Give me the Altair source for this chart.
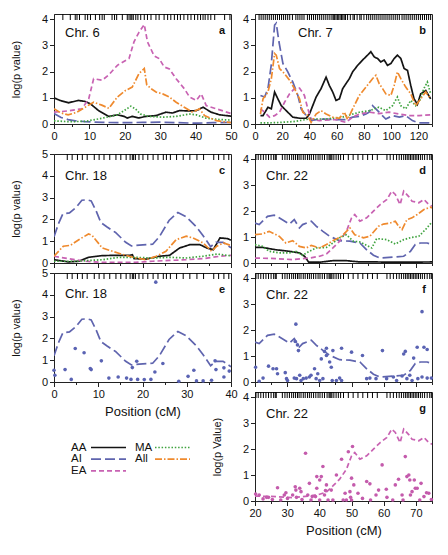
import altair as alt
import pandas as pd

FONT = "Liberation Sans"
GROUPS = ["AA", "AI", "EA", "MA", "All"]
GROUP_COLORS = ["#141414", "#5f64ae", "#c862b2", "#3fa33f", "#ef8a2e"]
GROUP_DASHES = [[1, 0], [10, 4], [5, 3], [1.5, 1.8], [7, 2, 1.5, 2]]
LEGEND_ORDER = ["AA", "MA", "AI", "All", "EA"]
POINT_BLUE = "#5a63b3"
POINT_PINK = "#c45bac"

# ---------------- Chr. 6 (panel a) ----------------
chr6_AA = [(0, 1.0), (1.7, 0.9), (4.1, 0.81), (6.9, 0.9), (8.8, 0.86), (10.3, 0.77), (12.6, 0.51),
           (15.5, 0.29), (17.9, 0.35), (19.8, 0.29), (20.7, 0.23), (22.1, 0.29), (24, 0.23), (25.9, 0.29),
           (28.8, 0.32), (31.6, 0.45), (33.5, 0.42), (35.4, 0.51), (38.3, 0.5), (40.2, 0.51), (42.1, 0.64),
           (44.4, 0.45), (46.8, 0.35), (50, 0.3)]
chr6_AI = [(0, 0.4), (2, 0.25), (4, 0.17), (6, 0.12), (8.8, 0.09), (13.6, 0.06), (20, 0.05), (25, 0.06),
           (30, 0.07), (35, 0.05), (40, 0.03), (45, 0.05), (50, 0.06)]
chr6_EA = [(0, 0.45), (4, 0.5), (7.9, 0.58), (9.8, 0.96), (11.2, 1.73), (13.6, 1.67), (15.5, 1.88),
           (17.9, 2.24), (21.2, 2.5), (22.6, 3.14), (24, 3.5), (25.5, 3.8), (26.4, 3.14), (28.3, 2.6),
           (29.7, 2.5), (31.1, 2.18), (32.6, 2.1), (34.5, 1.73), (36.8, 1.35), (38.3, 1.03), (40.2, 0.9),
           (41.6, 1.15), (43, 0.7), (45.9, 0.58), (50, 0.4)]
chr6_MA = [(0, 0.12), (4, 0.09), (8.8, 0.1), (13.6, 0.22), (17.9, 0.35), (19.8, 0.51), (21.7, 0.68),
           (23, 0.58), (24.4, 0.38), (26.9, 0.29), (30.7, 0.26), (34.5, 0.29), (38.3, 0.38), (40.2, 0.35),
           (43, 0.22), (46.8, 0.17), (50, 0.15)]
chr6_All = [(0, 0.58), (2, 0.42), (4, 0.35), (6.5, 0.45), (8.8, 0.64), (11.2, 0.83), (13.5, 0.72),
            (15.5, 0.6), (17.9, 1.03), (20.2, 1.28), (22.1, 1.41), (24, 1.92), (25.5, 2.12), (26.2, 1.5),
            (27.4, 1.35), (28.8, 1.22), (30.7, 1.15), (32.6, 1.03), (34.5, 0.83), (36.8, 0.64), (39.2, 0.45),
            (41.1, 0.58), (42.5, 0.32), (45.9, 0.13), (50, 0.05)]
chr6_markers = [2.5, 4.6, 6, 6.5, 7.2, 8.8, 9.5, 10.3, 11.7, 12.9, 13.6, 14.2, 16.4, 17.1, 17.7, 19.3,
                20.7, 21.2, 21.7, 22, 22.4, 23.1, 23.7, 24.5, 25.5, 26.4, 27.4, 28.8, 29.7, 31.1, 32.1,
                33, 34, 34.9, 35.7, 36.7, 37.8, 38.7, 39.7, 40.6, 41.4, 42.1, 42.7, 43.5, 44.3, 45.4,
                48.2, 49.7]

# ---------------- Chr. 7 (panel b) ----------------
chr7_AA = [(4, 0.32), (5.9, 0.32), (9.5, 0.64), (12, 0.58), (14.4, 1.22), (16.8, 0.96), (19.3, 0.7),
           (22.9, 0.51), (27.8, 0.26), (32.7, 0.22), (37.6, 0.22), (40, 0.38), (42.4, 0.7), (44.9, 1.03),
           (48.5, 1.35), (52.2, 1.79), (54.6, 1.47), (57.1, 1.22), (59.5, 0.9), (62, 0.96), (64.4, 1.35),
           (66.8, 1.54), (69.3, 1.73), (71.7, 1.99), (75.4, 2.24), (79, 2.44), (82.7, 2.63), (85.1, 2.76),
           (87.6, 2.56), (90, 2.5), (92.4, 2.37), (94.9, 2.44), (97.3, 2.24), (99.8, 2.31), (102.2, 2.5),
           (104.6, 2.63), (107.1, 2.5), (109.5, 2.12), (112, 2.05), (114.4, 1.47), (116.8, 0.96),
           (119.3, 0.75), (121.7, 1.15), (125.4, 1.28), (129, 0.96)]
chr7_AI = [(4, 1.09), (7.1, 1.03), (9.5, 1.35), (11.9, 2.24), (14.4, 3.78), (15.6, 3.85), (17.6, 3.14),
           (20.5, 2.31), (24.1, 1.99), (27.8, 1.6), (31.5, 1.09), (33.9, 0.58), (37.6, 0.32), (41.2, 0.13),
           (47.3, 0.19), (59.5, 0.17), (66.8, 0.17), (71.7, 0.26), (76.6, 0.29), (81.5, 0.38), (83.9, 0.45),
           (86.3, 0.7), (88.8, 0.58), (92.4, 0.38), (96.1, 0.19), (101, 0.32), (106, 0.26), (110.7, 0.32),
           (115.6, 0.13), (120.5, 0.04), (129, 0.04)]
chr7_EA = [(4, 0.58), (7.1, 0.45), (10.7, 0.26), (14.4, 0.32), (18, 0.45), (21.7, 0.83), (25.4, 1.15),
           (29, 1.35), (32.7, 1.37), (36.3, 1.09), (38.8, 0.58), (41.2, 0.19), (47.3, 0.13), (59.5, 0.17),
           (66.8, 0.06), (71.7, 0.26), (76.6, 0.38), (84, 0.45), (91, 0.4), (98.5, 0.45), (106, 0.38),
           (113, 0.32), (120.5, 0.32), (129, 0.35)]
chr7_MA = [(4, 0.04), (15, 0.05), (27.8, 0.09), (40, 0.19), (52, 0.19), (64, 0.26), (76.6, 0.45),
           (84, 0.51), (91, 0.64), (96, 0.51), (101, 0.7), (104.6, 1.03), (107, 0.7), (110.7, 0.58),
           (114.4, 0.9), (118, 0.7), (121.7, 0.96), (124, 1.35), (126.6, 1.6), (129, 1.15)]
chr7_All = [(4, 0.38), (5.9, 0.96), (9.5, 1.22), (12, 1.73), (14.4, 2.69), (15.6, 2.63), (18, 2.12),
            (21.7, 1.92), (25.4, 1.67), (29, 1.35), (32.7, 0.96), (35.1, 0.45), (38.8, 0.32), (41.2, 0.06),
            (44.9, 0.38), (48.5, 0.51), (52.2, 0.38), (57.1, 0.26), (62, 0.22), (65.6, 0.45), (68, 0.17),
            (71.7, 0.58), (76.6, 1.09), (81.5, 1.41), (86.3, 1.73), (88.8, 1.86), (91.2, 1.54), (93.7, 1.35),
            (96.1, 1.15), (99.8, 1.09), (102.2, 1.47), (104.6, 1.99), (107.1, 1.73), (110.7, 1.41),
            (114.4, 1.15), (118, 0.7), (121.7, 0.96), (125.4, 1.22), (129, 0.96)]
chr7_markers = [3, 4.5, 6, 7.5, 9, 10.5, 12, 13.5, 15, 16.5, 18, 19.5, 21, 22.5, 24, 25.5, 27.5, 30, 31.5,
                33, 34.5, 36, 38.5, 40, 41.5, 43, 44.5, 46, 47.5, 49, 50.5, 52, 53.5, 55, 56.5, 57.5, 58.5,
                59.5, 60.5, 61.5, 62.5, 63.5, 64.5, 65.5, 66.5, 68, 70, 72, 73, 75, 77, 78, 80, 82, 83.5,
                85, 86.5, 88, 89.5, 91, 92.5, 94, 95.5, 97, 98.5, 100, 101.5, 103, 104.5, 106, 108, 109.5,
                111, 112.5, 114, 115.5, 117, 118.5, 120, 121.5, 123, 124.5, 126, 127.5, 129]

# ---------------- Chr. 18 (panels c, e) ----------------
chr18_AA = [(0, 0.15), (3.3, 0.05), (5.6, 0.08), (7.8, 0.26), (10.9, 0.34), (13.9, 0.35), (17, 0.35),
            (17.7, 0.38), (18.1, 0.2), (20.8, 0.18), (23.8, 0.31), (26.1, 0.35), (28.4, 0.69), (30.7, 0.84),
            (33, 0.84), (34.5, 0.69), (36, 0.61), (37.5, 1.15), (39.2, 1.12), (40, 1.05)]
chr18_AI = [(0, 1.2), (1, 1.8), (2, 2.25), (3.5, 2.3), (5, 2.55), (6.3, 2.88), (7.5, 2.9), (8.4, 2.85),
            (9.5, 2.4), (10.6, 1.85), (12, 1.65), (13.9, 1.4), (16.2, 0.95), (17.5, 0.78), (19.3, 0.82),
            (22.3, 0.86), (23.8, 1.2), (26, 1.95), (28, 2.32), (29.9, 2.12), (32.2, 1.65), (33.7, 1.25),
            (35.4, 0.75), (36.6, 0.95), (38.2, 0.95), (40, 0.7)]
chr18_EA = [(0, 0.31), (3.3, 0.2), (7.1, 0.08), (10.9, 0.03), (18.5, 0.03), (22.3, 0.08), (26.1, 0.12),
            (29.9, 0.15), (33.7, 0.2), (37.5, 0.31), (40, 0.35)]
chr18_MA = [(0, 0.08), (4.8, 0.08), (10.9, 0.15), (14.7, 0.26), (18.5, 0.26), (22.3, 0.23), (26.1, 0.26),
            (29.9, 0.23), (33.7, 0.31), (36.8, 0.41), (39.2, 0.35), (40, 0.33)]
chr18_All = [(0, 0.31), (2.1, 0.77), (3.7, 0.81), (5.6, 1.07), (7.8, 1.33), (8.6, 1.27), (10.9, 0.69),
             (13.2, 0.54), (16.2, 0.35), (18.5, 0.23), (20.8, 0.15), (23.1, 0.31), (25.3, 0.54), (27.6, 1.07),
             (29.9, 1.23), (31.4, 1.15), (33.7, 0.92), (35.6, 0.54), (36.8, 0.77), (38.3, 0.92), (40, 0.8)]
chr18_AI_snps = [(0, 0.54), (0.2, 0.31), (2.5, 0.57), (3.9, 0.12), (4.8, 1.54), (6.8, 1.34), (8.2, 0.62),
                 (8.4, 0.57), (10.7, 0.97), (12.4, 0.18), (14.5, 0.23), (16.4, 0.18), (17.4, 0.12),
                 (17.7, 0.66), (18.7, 0.95), (18.9, 0.12), (20.4, 0.11), (21.9, 0.12), (22.8, 0.46),
                 (23, 4.58), (24.6, 0.85), (28.2, 0.03), (30.3, 0.26), (31.6, 0.54), (32.2, 0.05),
                 (33.7, 0.05), (35.6, 0.08), (36.4, 0.97), (36.6, 0.57), (38.4, 0.65), (38.4, 0.23),
                 (39.6, 0.5)]
chr18_markers = [3, 4.1, 5.3, 6.4, 7.5, 9.1, 10.2, 11.3, 12.6, 14, 15.1, 16.3, 17.2, 17.7, 18, 18.4, 19.2,
                 20.1, 21.2, 22.4, 23.5, 24.7, 25.4, 26.3, 27.7, 29.2, 30.7, 32.3, 33.8, 36.1, 37.2, 38.4,
                 39.5]

# ---------------- Chr. 22 (panels d, f, g) ----------------
chr22_AA = [(20, 0.6), (22.3, 0.6), (26.5, 0.51), (30.7, 0.45), (33.8, 0.39), (35.4, 0.26), (36.7, 0.03),
            (40.1, 0.03), (44.2, 0.09), (48.4, 0.09), (52.6, 0.04), (57.8, 0.04), (63, 0.03), (75, 0.04)]
chr22_AI = [(20, 1.54), (21.3, 1.48), (23.9, 1.8), (26, 1.84), (27.5, 1.74), (30.7, 1.5), (32.2, 1.67),
            (33.8, 1.35), (34.8, 1.48), (37.5, 1.61), (39, 1.42), (41.1, 1.22), (43.2, 1.03), (46.3, 0.86),
            (49.5, 0.84), (52.6, 0.77), (54.7, 0.51), (56.8, 0.3), (58.9, 0.19), (63, 0.23), (66.2, 0.26),
            (68.3, 0.45), (69.8, 0.71), (71.4, 0.77), (73.5, 0.77), (75, 0.71)]
chr22_EA = [(20, 0.19), (26.5, 0.17), (31.7, 0.13), (36.9, 0.19), (40.1, 0.26), (42.2, 0.35), (44.2, 0.58),
            (46.3, 0.84), (48.4, 1.22), (50, 1.74), (51, 1.87), (52.6, 1.61), (54.7, 1.74), (56.8, 2.0),
            (58.9, 2.25), (61, 2.45), (62.5, 2.77), (63.6, 2.64), (65.1, 2.25), (66.2, 2.77), (67.7, 2.57),
            (68.8, 2.38), (70.9, 2.32), (72.5, 2.45), (74, 2.25), (75, 2.19)]
chr22_MA = [(20, 0.71), (22.3, 0.64), (24.4, 0.45), (27.5, 0.39), (30.7, 0.39), (32.7, 0.45), (34.8, 0.3),
            (36.9, 0.45), (39, 0.58), (42.2, 0.6), (44.2, 0.77), (46.3, 0.97), (48.4, 1.09), (50.5, 0.84),
            (52.6, 0.81), (54.7, 0.68), (56.3, 0.58), (57.8, 0.94), (61, 0.9), (63.6, 0.73), (66.2, 0.9),
            (68.8, 0.99), (70.9, 1.03), (73, 1.29), (75, 1.58)]
chr22_All = [(20, 1.09), (22.3, 1.12), (24.4, 1.22), (27.5, 1.03), (29.6, 0.77), (31.7, 0.86), (33.8, 0.64),
             (35.9, 0.58), (37.5, 0.68), (40.1, 0.58), (42.2, 0.71), (44.2, 0.86), (46.9, 1.03), (49.5, 1.35),
             (51, 1.09), (53.7, 0.97), (55.7, 1.03), (58.4, 1.42), (59.9, 1.5), (62, 1.54), (63.6, 1.61),
             (64.6, 1.42), (65.7, 1.29), (67.2, 1.67), (68.8, 1.74), (70.4, 1.87), (72.5, 2.06), (74.5, 2.15),
             (75, 2.12)]
chr22_AI_snps = [(20.2, 0.57), (21.3, 0.03), (22.5, 0.15), (24.2, 0.61), (25.6, 0.51), (26.7, 0.51),
                 (27, 0.32), (29.4, 0.36), (29.8, 0.13), (30.1, 0.06), (32.2, 0.15), (32.7, 2.23),
                 (32.5, 1.56), (33.2, 1.43), (33.5, 1.21), (32.9, 0.13), (33.9, 0.26), (34.3, 0.06),
                 (35, 0.13), (35.9, 0.15), (36.9, 0.19), (37.4, 0.26), (38.5, 0.51), (39, 0.13),
                 (39.5, 0.32), (40.1, 0.06), (41.1, 0.13), (41.6, 1.18), (42.2, 1.3), (40.6, 0.89),
                 (42.2, 1.02), (43.2, 0.77), (43.7, 0.57), (44.2, 1.21), (44, 0.06), (45.3, 0.06),
                 (46.9, 1.3), (46.3, 0.15), (46.9, 0.06), (50, 1.15), (53.4, 1.02), (54.7, 0.13),
                 (55.7, 0.15), (57.6, 0.13), (59.6, 1.21), (60.9, 0.13), (63, 0.19), (64, 0.06),
                 (65.7, 0.23), (66.2, 1.08), (66.7, 1.18), (67.2, 0.13), (68.1, 0.26), (68.8, 0.06),
                 (69.3, 0.92), (70.4, 1.34), (70.6, 0.13), (71.9, 2.71), (71.9, 0.19), (72.5, 1.34),
                 (73.5, 1.25), (73.5, 0.15), (74.8, 0.15)]
chr22_EA_snps = [(20.2, 0.27), (21.3, 0.23), (22.5, 0.08), (23.6, 0.14), (24.2, 0.14), (25.4, 0.06),
                 (27, 0.51), (28, 0.04), (29.1, 0.23), (29.6, 0.32), (30.1, 0.1), (31.7, 0.23),
                 (32.5, 0.55), (32.7, 0.42), (32.9, 0.14), (33.9, 0.49), (34.3, 0.36), (34.6, 0.06),
                 (35.7, 1.84), (36.4, 0.23), (36.9, 0.68), (37.4, 0.04), (37.8, 0.17), (38.8, 0.17),
                 (39.2, 0.49), (39.2, 0.94), (40.1, 0.81), (40.6, 0.94), (40.1, 0.04), (41.1, 1.33),
                 (41.6, 0.23), (41.9, 0.4), (42.2, 0.62), (42.7, 0.04), (43.7, 0.42), (44.2, 0.04),
                 (45.3, 1.0), (46.9, 1.61), (47.4, 0.04), (48, 0.3), (48.4, 0.04), (49, 1.9),
                 (49.5, 0.36), (49.7, 0.14), (50, 0.04), (50.3, 2.1), (50, 0.88), (50.7, 0.62),
                 (52, 0.3), (53.4, 0.1), (54.7, 0.75), (55.7, 0.66), (55.9, 0.04), (57.6, 0.23),
                 (58.4, 0.42), (59.5, 1.39), (60.8, 0.45), (61, 0.14), (62.8, 0.04), (63.6, 0.62),
                 (64.6, 0.84), (65.7, 0.23), (66, 0.04), (66.7, 1.71), (67.2, 0.94), (67.8, 1.0),
                 (68.1, 0.81), (68.3, 0.23), (68.8, 0.36), (69.5, 0.81), (69.8, 0.49), (70.4, 0.49),
                 (71.2, 0.04), (71.6, 0.68), (72.5, 0.17), (73.3, 0.32), (74, 0.3), (74.8, 0.06)]
chr22_markers = [20.3, 21, 21.8, 22.6, 23.4, 24.2, 25, 25.8, 26.3, 26.6, 28.5, 29.3, 30, 30.7, 31.4, 32,
                 32.6, 33.2, 33.7, 34.3, 35, 35.6, 36.3, 36.9, 37.5, 38.2, 38.9, 39.6, 40.2, 40.9, 41.6,
                 42.4, 43, 43.3, 43.6, 43.9, 44.5, 45.2, 45.9, 46.6, 47.5, 49, 50.5, 52, 53.5, 55, 56.5,
                 58, 61, 62, 63, 64, 64.8, 65.5, 66.2, 66.8, 67.3, 67.8, 68.3, 68.8, 69.3, 69.8, 70.3,
                 70.8, 71.4, 72, 72.7, 73.5, 74.3, 74.8]

color_scale = alt.Scale(domain=GROUPS, range=GROUP_COLORS)
dash_scale = alt.Scale(domain=GROUPS, range=GROUP_DASHES)


def series_frame(series):
    rows = []
    for g, pts in series.items():
        for p, v in pts:
            rows.append({"grp": g, "pos": p, "val": v})
    return pd.DataFrame(rows)


def points_frame(pts):
    return pd.DataFrame({"pos": [p for p, _ in pts], "val": [v for _, v in pts]})


def make_panel(series, markers, xdom, xstep, xmajor, ydom, chr_label, chr_x, chr_y, letter,
               show_xlabels, xtitle, ytitle, points=None, point_color=None, w=177, h=109):
    xvals = list(range(xdom[0], xdom[1] + 1, xstep))
    yvals = [i * 0.5 for i in range(int(ydom[1] * 2) + 1)]
    xaxis = alt.Axis(values=xvals, labels=show_xlabels, format="d",
                     labelExpr=f"datum.value % {xmajor} === 0 ? datum.label : ''",
                     tickSize={"condition": {"test": f"datum.value % {xmajor} !== 0", "value": 2.5},
                               "value": 4.5},
                     grid=False, labelFlush=False, labelOverlap=False, title=xtitle)
    yaxis = alt.Axis(values=yvals, format="d",
                     labelExpr="datum.value % 1 === 0 ? datum.label : ''",
                     tickSize={"condition": {"test": "datum.value % 1 !== 0", "value": 2.5},
                               "value": 4.5},
                     grid=False, labelFlush=False, labelOverlap=False, title=ytitle)
    x_enc = alt.X("pos:Q", scale=alt.Scale(domain=list(xdom), nice=False, zero=False), axis=xaxis)
    y_enc = alt.Y("val:Q", scale=alt.Scale(domain=list(ydom), nice=False, zero=False), axis=yaxis)

    layers = []
    mk = alt.Chart(pd.DataFrame({"pos": markers})).mark_rule(color="#000000", strokeWidth=1).encode(
        x=x_enc, y=alt.value(0), y2=alt.value(6))
    layers.append(mk)
    ln = alt.Chart(series_frame(series)).mark_line(strokeWidth=1.7, clip=True).encode(
        x=x_enc, y=y_enc,
        color=alt.Color("grp:N", scale=color_scale, legend=None),
        strokeDash=alt.StrokeDash("grp:N", scale=dash_scale, legend=None))
    layers.append(ln)
    if points is not None:
        pt = alt.Chart(points_frame(points)).mark_circle(size=13, opacity=1, color=point_color).encode(
            x=x_enc, y=y_enc)
        layers.append(pt)
    lab = alt.Chart(pd.DataFrame({"t": [chr_label]})).mark_text(
        align="left", baseline="middle", fontSize=13, color="#111111").encode(
        x=alt.value(chr_x), y=alt.value(chr_y), text="t:N")
    layers.append(lab)
    let = alt.Chart(pd.DataFrame({"t": [letter]})).mark_text(
        align="right", baseline="middle", fontSize=11, fontWeight="bold", color="#111111").encode(
        x=alt.value(w - 6), y=alt.value(17), text="t:N")
    layers.append(let)
    return alt.layer(*layers).properties(width=w, height=h)


def spacer(w=177, h=10):
    return alt.Chart(pd.DataFrame({"t": [""]})).mark_text().encode(text="t:N").properties(
        width=w, height=h, view=alt.ViewBackground(stroke="transparent"))


YT = "log(p value)"
XT = "Position (cM)"

pa = make_panel({"AA": chr6_AA, "AI": chr6_AI, "EA": chr6_EA, "MA": chr6_MA, "All": chr6_All},
                chr6_markers, (0, 50), 5, 10, (0, 4.2), "Chr. 6", 11, 19, "a", True, None, YT, h=110)
pb = make_panel({"AA": chr7_AA, "AI": chr7_AI, "EA": chr7_EA, "MA": chr7_MA, "All": chr7_All},
                chr7_markers, (0, 130), 10, 20, (0, 4.2), "Chr. 7", 43, 19, "b", True, None, None, h=110)
pc = make_panel({"AA": chr18_AA, "AI": chr18_AI, "EA": chr18_EA, "MA": chr18_MA, "All": chr18_All},
                chr18_markers, (0, 40), 5, 10, (0, 5), "Chr. 18", 11, 22, "c", False, None, YT)
pd_ = make_panel({"AA": chr22_AA, "AI": chr22_AI, "EA": chr22_EA, "MA": chr22_MA, "All": chr22_All},
                 chr22_markers, (20, 75), 5, 10, (0, 4.2), "Chr. 22", 11, 22, "d", False, None, None)
pe = make_panel({"AI": chr18_AI}, chr18_markers, (0, 40), 5, 10, (0, 5), "Chr. 18", 11, 21, "e",
                True, XT, YT, points=chr18_AI_snps, point_color=POINT_BLUE)
pf = make_panel({"AI": chr22_AI}, chr22_markers, (20, 75), 5, 10, (0, 4.2), "Chr. 22", 11, 22, "f",
                False, None, None, points=chr22_AI_snps, point_color=POINT_BLUE)
pg = make_panel({"EA": chr22_EA}, chr22_markers, (20, 75), 5, 10, (0, 4.2), "Chr. 22", 11, 22, "g",
                True, XT, "log(p Value)", points=chr22_EA_snps, point_color=POINT_PINK)

# manual legend
leg_base = alt.Chart(pd.DataFrame({"grp": LEGEND_ORDER})).transform_window(
    i="row_number()").transform_calculate(
    col="(datum.i - 1) % 2", row="floor((datum.i - 1) / 2)").transform_calculate(
    xt="17 + 64 * datum.col", x1="37 + 64 * datum.col", x2="72 + 64 * datum.col",
    yy="55.5 + 11.7 * datum.row")
leg_rules = leg_base.mark_rule(strokeWidth=1.7).encode(
    x=alt.X("x1:Q", scale=None, axis=None), x2="x2:Q",
    y=alt.Y("yy:Q", scale=None, axis=None),
    color=alt.Color("grp:N", scale=color_scale, legend=None),
    strokeDash=alt.StrokeDash("grp:N", scale=dash_scale, legend=None))
leg_text = leg_base.mark_text(align="left", baseline="middle", fontSize=11.5, color="#111111").encode(
    x=alt.X("xt:Q", scale=None, axis=None), y=alt.Y("yy:Q", scale=None, axis=None), text="grp:N")
leg = alt.layer(leg_rules, leg_text).properties(
    width=177, height=109, view=alt.ViewBackground(stroke="transparent"))

chart = alt.concat(pa, pb, spacer(), spacer(), pc, pd_, pe, pf, leg, pg,
                   columns=2, spacing={"row": 10, "column": 24}, bounds="flush").properties(
    padding={"left": 1, "top": 4, "right": 4, "bottom": 4}
).configure(font=FONT).configure_axis(
    labelFontSize=11, titleFontSize=11, titleFontWeight="normal", labelColor="#111111",
    titleColor="#111111", domainColor="#222222", tickColor="#222222", labelPadding=2
).configure_axisX(titleFontSize=13, titlePadding=6).configure_axisY(titlePadding=20).configure_view(
    stroke="#222222", strokeWidth=1)

chart.save("out.html", embed_options={"renderer": "svg", "actions": False})
